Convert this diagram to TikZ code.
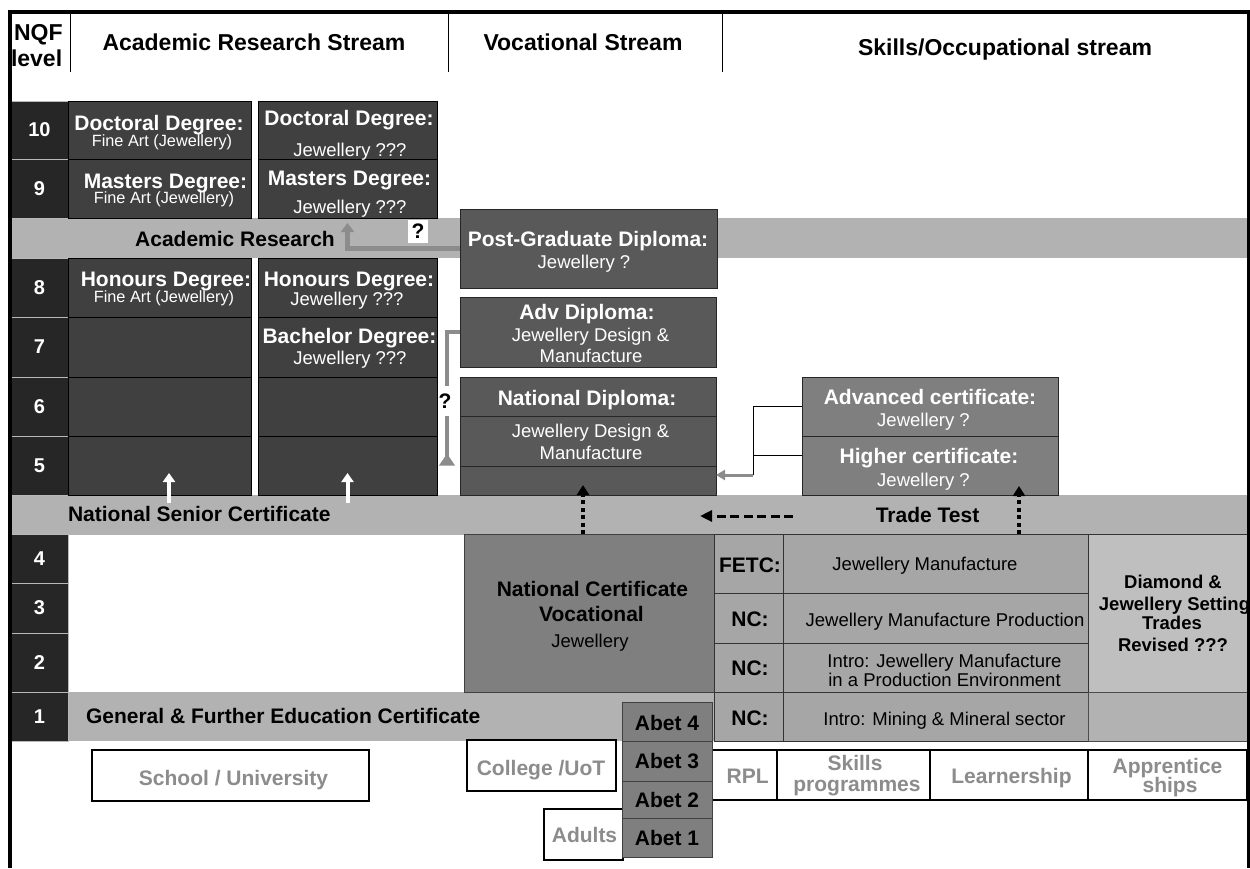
\documentclass[tikz,border=0pt]{standalone}
\usepackage{fontspec}
\setmainfont{Liberation Sans}
\usetikzlibrary{arrows.meta}
\definecolor{lvlc}{HTML}{262626}
\definecolor{acc}{HTML}{404040}
\definecolor{vocc}{HTML}{595959}
\definecolor{certc}{HTML}{7F7F7F}
\definecolor{bandc}{HTML}{B2B2B2}
\definecolor{rowc}{HTML}{A6A6A6}
\definecolor{diac}{HTML}{BFBFBF}
\definecolor{arrc}{HTML}{8C8C8C}
\definecolor{wtxt}{HTML}{8C8C8C}
\tikzset{
  bx/.style={anchor=north west, inner sep=0pt, outer sep=0pt, line width=0.9pt},
  band/.style={bx, fill=bandc, draw=none},
  lvl/.style={bx, fill=lvlc, draw=gray!55},
  acad/.style={bx, fill=acc, draw=black},
  voc/.style={bx, fill=vocc, draw=black!85},
  crt/.style={bx, fill=certc, draw=black!85},
  ncvbox/.style={bx, fill=certc, draw=black!75},
  rowbox/.style={bx, fill=rowc, draw=black!80},
  diabox/.style={bx, fill=diac, draw=black!80},
  r1box/.style={bx, fill=bandc, draw=black!70},
  abetbox/.style={bx, fill=certc, draw=black!75},
  wbox/.style={bx, fill=white, draw=black, line width=1.6pt},
  lbl/.style={inner sep=0pt, outer sep=0pt, anchor=base},
  hd/.style={lbl, font=\fontsize{23}{23}\selectfont\bfseries},
  num/.style={inner sep=0pt, font=\fontsize{20}{20}\selectfont\bfseries, text=white},
  ttl/.style={lbl, font=\fontsize{21}{21}\selectfont\bfseries, text=white},
  lsub/.style={lbl, font=\fontsize{18.5}{18.5}\selectfont, text=white},
  fine/.style={lbl, font=\fontsize{16.3}{16.3}\selectfont, text=white},
  btl/.style={lbl, font=\fontsize{21}{21}\selectfont\bfseries, text=black},
  bsub/.style={lbl, font=\fontsize{18.5}{18.5}\selectfont, text=black},
  dtl/.style={lbl, font=\fontsize{18.5}{18.5}\selectfont\bfseries, text=black},
  gtl/.style={lbl, font=\fontsize{21}{21}\selectfont\bfseries, text=wtxt},
  qm/.style={inner sep=0pt, fill=white, font=\fontsize{21}{21}\selectfont\bfseries},
  garr/.style={draw=arrc, line width=4.5pt, -{Triangle[width=13pt,length=9pt]}},
  garrB/.style={draw=arrc, line width=4pt, -{Triangle[reversed,width=15pt,length=12pt]}},
  garrC/.style={draw=arrc, line width=3pt, -{Triangle[width=10pt,length=9pt]}},
  thinl/.style={draw=black, line width=0.9pt},
  dotarr/.style={draw=black, line width=4pt, dash pattern=on 4pt off 3.5pt, -{Triangle[width=12pt,length=10pt]}},
  dasharr/.style={draw=black, line width=3pt, dash pattern=on 9pt off 4.5pt, -{Triangle[width=11pt,length=12pt]}},
  warr/.style={draw=white, line width=4pt, -{Triangle[width=12pt,length=9pt]}},
}
\newcommand\bxat[6]{\node[#6, minimum width=#4-#2, minimum height=#5-#3] (#1) at (#2,#3) {};}
\begin{document}
\begin{tikzpicture}[x=1pt,y=-1pt]
\useasboundingbox (0,0) rectangle (1250,868);
% bands
\bxat{bandAR}{11}{218}{1247}{258}{band}
\bxat{bandNSC}{11}{495}{1247}{535}{band}
\bxat{bandGF}{68}{692}{1247}{741}{band}
% level cells
\bxat{L10}{11}{101}{68}{159}{lvl}
\bxat{L9}{11}{159}{68}{218}{lvl}
\bxat{L8}{11}{258}{68}{317}{lvl}
\bxat{L7}{11}{317}{68}{377}{lvl}
\bxat{L6}{11}{377}{68}{436}{lvl}
\bxat{L5}{11}{436}{68}{495}{lvl}
\bxat{L4}{11}{534}{68}{583}{lvl}
\bxat{L3}{11}{583}{68}{633}{lvl}
\bxat{L2}{11}{633}{68}{692}{lvl}
\bxat{L1}{11}{692}{68}{741}{lvl}
\node[num] (n10) at (L10.center) {10};
\node[num] (n9) at (L9.center) {9};
\node[num] (n8) at (L8.center) {8};
\node[num] (n7) at (L7.center) {7};
\node[num] (n6) at (L6.center) {6};
\node[num] (n5) at (L5.center) {5};
\node[num] (n4) at (L4.center) {4};
\node[num] (n3) at (L3.center) {3};
\node[num] (n2) at (L2.center) {2};
\node[num] (n1) at (L1.center) {1};
% academic columns
\bxat{doc1}{68}{101}{251}{159}{acad}
\bxat{mas1}{68}{159}{251}{218}{acad}
\bxat{hon1}{68}{258}{251}{317}{acad}
\bxat{a17}{68}{317}{251}{377}{acad}
\bxat{a16}{68}{377}{251}{436}{acad}
\bxat{a15}{68}{436}{251}{495}{acad}
\bxat{doc2}{258}{101}{437}{159}{acad}
\bxat{mas2}{258}{159}{437}{218}{acad}
\bxat{hon2}{258}{258}{437}{317}{acad}
\bxat{bach}{258}{317}{437}{377}{acad}
\bxat{a26}{258}{377}{437}{436}{acad}
\bxat{a25}{258}{436}{437}{495}{acad}
% vocational
\bxat{pg}{460}{209}{717}{288}{voc}
\bxat{adv}{460}{297}{716}{367}{voc}
\bxat{nd1}{460}{377}{716}{416}{voc}
\bxat{nd2}{460}{416}{716}{466}{voc}
\bxat{nd3}{460}{466}{716}{495}{voc}
\bxat{adc}{802}{377}{1058}{436}{crt}
\bxat{hic}{802}{436}{1058}{495}{crt}
\bxat{ncv}{464}{534}{714}{692}{ncvbox}
% skills rows
\bxat{fetcL}{714}{534}{783}{593}{rowbox}
\bxat{fetcR}{783}{534}{1088}{593}{rowbox}
\bxat{ncaL}{714}{593}{783}{643}{rowbox}
\bxat{ncaR}{783}{593}{1088}{643}{rowbox}
\bxat{ncbL}{714}{643}{783}{692}{rowbox}
\bxat{ncbR}{783}{643}{1088}{692}{rowbox}
\bxat{nccL}{714}{692}{783}{741}{rowbox}
\bxat{nccR}{783}{692}{1088}{741}{rowbox}
\bxat{dia}{1088}{534}{1247}{692}{diabox}
\bxat{r1}{1088}{692}{1247}{741}{r1box}
% bottom white boxes
\bxat{school}{92}{750}{369}{801}{wbox}
\bxat{college}{467}{740}{616}{791}{wbox}
\bxat{adults}{544}{809}{623}{860}{wbox}
\bxat{rpl}{712}{750}{777}{800}{wbox}
\bxat{skills}{777}{750}{930}{800}{wbox}
\bxat{learn}{930}{750}{1088}{800}{wbox}
\bxat{appr}{1088}{750}{1247}{800}{wbox}
% abet
\bxat{ab4}{622}{702}{712}{741}{abetbox}
\bxat{ab3}{622}{741}{712}{781}{abetbox}
\bxat{ab2}{622}{781}{712}{818}{abetbox}
\bxat{ab1}{622}{818}{712}{857}{abetbox}
% header
\node[hd, anchor=base west] (hNQF) at (14,40) {NQF};
\node[hd, anchor=base west] (hlev) at (11,66.7) {level};
\node[hd] (hAc) at (254,50) {Academic Research Stream};
\node[hd] (hVo) at (583,50.7) {Vocational Stream};
\node[hd] (hSk) at (1005,55) {Skills/Occupational stream};
% academic texts
\node[ttl] (tDoc1) at (159,130) {Doctoral Degree:};
\node[fine] (sDoc1) at (162,146) {Fine Art (Jewellery)};
\node[ttl] (tDoc2) at (349,125) {Doctoral Degree:};
\node[lsub] (sDoc2) at (350,156.7) {Jewellery ???};
\node[ttl] (tMas1) at (165.5,188) {Masters Degree:};
\node[fine] (sMas1) at (164,203) {Fine Art (Jewellery)};
\node[ttl] (tMas2) at (349.5,185) {Masters Degree:};
\node[lsub] (sMas2) at (350,213) {Jewellery ???};
\node[ttl] (tHon1) at (166,286.5) {Honours Degree:};
\node[fine] (sHon1) at (164,302) {Fine Art (Jewellery)};
\node[ttl] (tHon2) at (349,286.5) {Honours Degree:};
\node[lsub] (sHon2) at (347,305) {Jewellery ???};
\node[ttl] (tBach) at (349.5,343) {Bachelor Degree:};
\node[lsub] (sBach) at (350,364) {Jewellery ???};
% band texts
\node[btl] (tAR) at (235,246.7) {Academic Research};
\node[btl, anchor=base west] (tNSC) at (68,521.7) {National Senior Certificate};
\node[btl] (tTT) at (927.5,522.3) {Trade Test};
\node[btl, anchor=base west] (tGF) at (86,723.3) {General \& Further Education Certificate};
% vocational texts
\node[ttl] (tPG) at (588,246.7) {Post-Graduate Diploma:};
\node[lsub] (sPG) at (584,268.3) {Jewellery ?};
\node[ttl] (tAdv) at (587,319) {Adv Diploma:};
\node[lsub] (sAdv1) at (590.5,341.7) {Jewellery Design \&};
\node[lsub] (sAdv2) at (591,362.7) {Manufacture};
\node[ttl] (tND) at (587,405) {National Diploma:};
\node[lsub] (sND1) at (590.5,437.7) {Jewellery Design \&};
\node[lsub] (sND2) at (591,459) {Manufacture};
\node[ttl] (tAC) at (930,404) {Advanced certificate:};
\node[lsub] (sAC) at (923.5,426.7) {Jewellery ?};
\node[ttl] (tHC) at (929,463.3) {Higher certificate:};
\node[lsub] (sHC) at (923.5,486) {Jewellery ?};
% NCV
\node[btl] (tNCV1) at (592.5,596.7) {National Certificate};
\node[btl] (tNCV2) at (591.5,621.7) {Vocational};
\node[bsub] (sNCV) at (590,647.7) {Jewellery};
% rows
\node[btl] (tFETC) at (750,572.3) {FETC:};
\node[bsub] (sFETC) at (925,570) {Jewellery Manufacture};
\node[btl] (tNCa) at (750,626) {NC:};
\node[bsub] (sNCa) at (945,626) {Jewellery Manufacture Production};
\node[btl] (tNCb) at (750,675) {NC:};
\node[bsub] (sNCb1) at (944.5,667.7) {Intro: Jewellery Manufacture};
\node[bsub] (sNCb2) at (944.5,686) {in a Production Environment};
\node[btl] (tNCc) at (750,725) {NC:};
\node[bsub] (sNCc) at (944.5,725) {Intro: Mining \& Mineral sector};
% diamond
\node[dtl] (d1) at (1173,588.3) {Diamond \&};
\node[dtl] (d2) at (1174.5,610.7) {Jewellery Setting};
\node[dtl] (d3) at (1172,629.3) {Trades};
\node[dtl] (d4) at (1173,651.7) {Revised ???};
% abet texts
\node[btl] (tA4) at (667,730) {Abet 4};
\node[btl] (tA3) at (667,768.3) {Abet 3};
\node[btl] (tA2) at (667,807.3) {Abet 2};
\node[btl] (tA1) at (667,845) {Abet 1};
% bottom texts
\node[gtl] (tSch) at (233.5,785) {School / University};
\node[gtl] (tCol) at (541,775) {College /UoT};
\node[gtl] (tAdu) at (584.5,842.7) {Adults};
\node[gtl] (tRPL) at (747.7,783.3) {RPL};
\node[gtl] (tSk1) at (855,770) {Skills};
\node[gtl] (tSk2) at (857,791) {programmes};
\node[gtl] (tLe) at (1011.5,783.3) {Learnership};
\node[gtl] (tAp1) at (1167.5,773) {Apprentice};
\node[gtl] (tAp2) at (1170,792) {ships};
% connectors
\draw[garr, shorten >=5pt] (pg.west) -| (mas2.south);
\node[qm, minimum width=20pt, minimum height=23pt] (q1) at (418,231) {?};
\draw[garrB] (adv.west) -| ([xshift=10pt]a25.east);
\node[qm, minimum width=14pt, minimum height=30pt] (q2) at (445,401) {?};
\coordinate (cjb) at (753,475);
\draw[thinl] (adc.west) -| (cjb);
\draw[thinl] ([yshift=10.5pt]hic.west) -- ++(-49,0);
\draw[garrC] (cjb) -- (cjb -| nd3.east);
\draw[dotarr] ([xshift=-6pt]ncv.north) -- ++(0,-49);
\draw[dotarr] ([xshift=-69pt]fetcR.north east) -- ++(0,-48);
\coordinate (dsA) at (793,516);
\coordinate (dsB) at (700,516);
\draw[dasharr] (dsA) -- (dsB);
\draw[warr] ([xshift=9.5pt,yshift=-8pt]a15.south) -- ++(0,-30);
\draw[warr] ([yshift=-8pt]a25.south) -- ++(0,-30);
% frame and header dividers
\draw[line width=3.2pt] (10,868) -- (10,12) -- (1248.4,12) -- (1248.4,868);
\draw[line width=0.9pt] (70,13) -- (70,72);
\draw[line width=0.9pt] (448,13) -- (448,72);
\draw[line width=0.9pt] (722,13) -- (722,72);
\end{tikzpicture}
\end{document}
